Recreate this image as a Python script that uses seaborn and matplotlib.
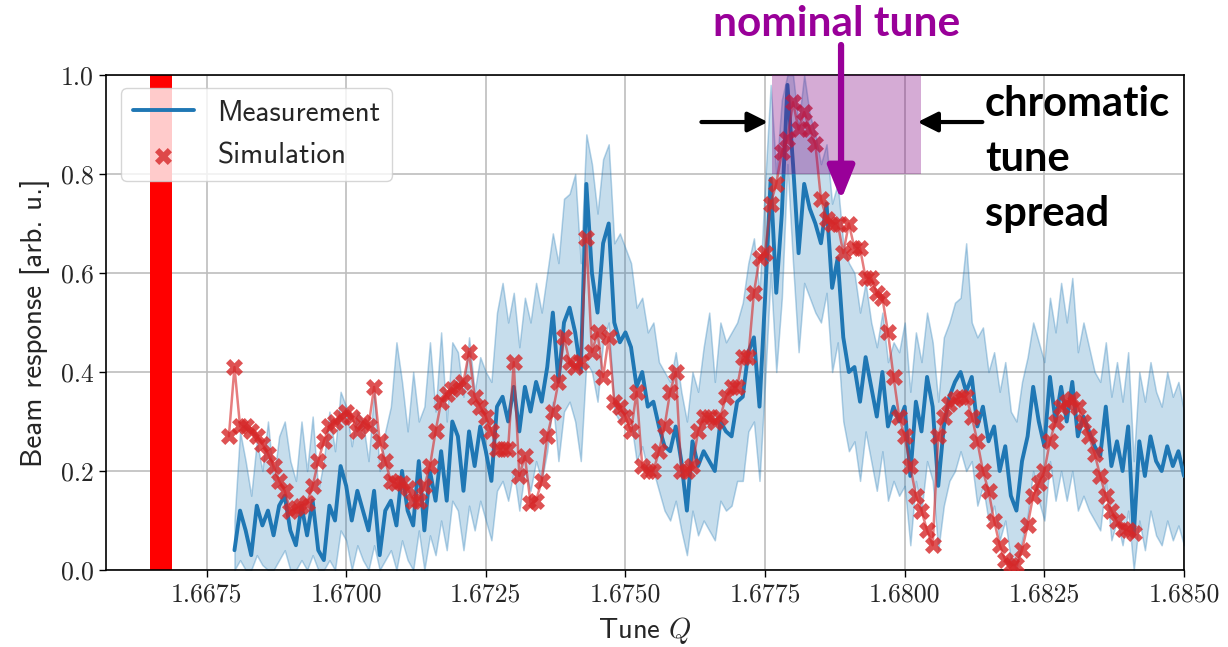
import numpy as np
import pandas as pd
import matplotlib
matplotlib.use("Agg")
import matplotlib.pyplot as plt
import seaborn as sns

# ---------------- data ----------------
meas_tune = np.round(np.arange(1.6680, 1.68505, 0.0001), 4)  # 171 tune steps
meas_mean = [
    0.04, 0.12, 0.08, 0.03, 0.13, 0.09, 0.12, 0.07, 0.13, 0.15,
    0.08, 0.05, 0.13, 0.07, 0.14, 0.04, 0.02, 0.13, 0.10, 0.21,
    0.17, 0.10, 0.16, 0.12, 0.08, 0.16, 0.03, 0.12, 0.14, 0.09,
    0.20, 0.12, 0.09, 0.22, 0.08, 0.20, 0.14, 0.24, 0.14, 0.30,
    0.27, 0.16, 0.28, 0.21, 0.29, 0.24, 0.18, 0.33, 0.35, 0.30,
    0.37, 0.28, 0.37, 0.32, 0.38, 0.34, 0.41, 0.52, 0.38, 0.50,
    0.53, 0.48, 0.40, 0.78, 0.60, 0.52, 0.66, 0.70, 0.50, 0.46,
    0.48, 0.45, 0.37, 0.40, 0.33, 0.34, 0.29, 0.25, 0.24, 0.29,
    0.22, 0.12, 0.26, 0.21, 0.24, 0.22, 0.20, 0.30, 0.28, 0.27,
    0.34, 0.35, 0.44, 0.47, 0.33, 0.55, 0.79, 0.56, 0.72, 0.98,
    0.82, 0.64, 0.78, 0.73, 0.70, 0.66, 0.74, 0.57, 0.63, 0.47,
    0.40, 0.41, 0.34, 0.43, 0.37, 0.31, 0.40, 0.29, 0.33, 0.30,
    0.33, 0.19, 0.34, 0.28, 0.39, 0.33, 0.17, 0.29, 0.35, 0.38,
    0.40, 0.36, 0.39, 0.29, 0.33, 0.26, 0.29, 0.20, 0.25, 0.15,
    0.12, 0.22, 0.27, 0.37, 0.30, 0.25, 0.39, 0.30, 0.37, 0.30,
    0.38, 0.27, 0.31, 0.28, 0.25, 0.23, 0.33, 0.21, 0.26, 0.20,
    0.29, 0.07, 0.26, 0.19, 0.27, 0.22, 0.20, 0.25, 0.21, 0.24, 0.19,
]
meas_upper = [
    0.10, 0.28, 0.22, 0.15, 0.26, 0.20, 0.30, 0.18, 0.27, 0.30,
    0.22, 0.18, 0.30, 0.20, 0.31, 0.16, 0.22, 0.32, 0.24, 0.36,
    0.33, 0.25, 0.32, 0.30, 0.22, 0.36, 0.20, 0.28, 0.33, 0.46,
    0.38, 0.28, 0.40, 0.30, 0.33, 0.46, 0.32, 0.48, 0.30, 0.46,
    0.44, 0.35, 0.47, 0.36, 0.43, 0.40, 0.38, 0.52, 0.58, 0.50,
    0.56, 0.45, 0.55, 0.50, 0.58, 0.52, 0.60, 0.68, 0.62, 0.75,
    0.76, 0.80, 0.62, 0.88, 0.82, 0.72, 0.83, 0.86, 0.66, 0.68,
    0.65, 0.62, 0.53, 0.55, 0.48, 0.50, 0.42, 0.40, 0.38, 0.44,
    0.36, 0.30, 0.40, 0.36, 0.45, 0.52, 0.38, 0.50, 0.46, 0.48,
    0.50, 0.54, 0.62, 0.67, 0.56, 0.78, 0.98, 0.80, 0.95, 1.00,
    1.00, 0.90, 1.00, 0.92, 0.88, 0.82, 0.86, 0.74, 0.78, 0.66,
    0.62, 0.60, 0.52, 0.58, 0.50, 0.45, 0.52, 0.42, 0.46, 0.44,
    0.50, 0.36, 0.48, 0.42, 0.52, 0.46, 0.34, 0.47, 0.50, 0.54,
    0.55, 0.66, 0.50, 0.47, 0.49, 0.40, 0.44, 0.36, 0.42, 0.32,
    0.30, 0.38, 0.43, 0.50, 0.46, 0.42, 0.55, 0.48, 0.58, 0.50,
    0.59, 0.44, 0.50, 0.45, 0.40, 0.38, 0.46, 0.35, 0.42, 0.34,
    0.44, 0.22, 0.40, 0.34, 0.42, 0.36, 0.33, 0.40, 0.35, 0.38, 0.32,
]
meas_lower = [
    0.00, 0.02, 0.00, 0.00, 0.03, 0.01, 0.00, 0.00, 0.02, 0.04,
    0.00, 0.00, 0.02, 0.00, 0.03, 0.00, 0.00, 0.02, 0.00, 0.08,
    0.06, 0.00, 0.05, 0.02, 0.00, 0.05, 0.00, 0.02, 0.04, 0.00,
    0.06, 0.02, 0.00, 0.08, 0.00, 0.07, 0.03, 0.10, 0.04, 0.14,
    0.12, 0.04, 0.13, 0.08, 0.14, 0.10, 0.06, 0.16, 0.18, 0.14,
    0.20, 0.12, 0.20, 0.16, 0.22, 0.18, 0.24, 0.34, 0.22, 0.32,
    0.34, 0.30, 0.22, 0.42, 0.40, 0.34, 0.46, 0.50, 0.32, 0.30,
    0.32, 0.30, 0.22, 0.25, 0.20, 0.20, 0.16, 0.12, 0.10, 0.14,
    0.08, 0.03, 0.12, 0.07, 0.10, 0.08, 0.06, 0.14, 0.12, 0.13,
    0.18, 0.18, 0.28, 0.30, 0.18, 0.38, 0.60, 0.40, 0.55, 0.82,
    0.62, 0.44, 0.58, 0.55, 0.52, 0.50, 0.56, 0.40, 0.46, 0.30,
    0.24, 0.26, 0.18, 0.28, 0.22, 0.16, 0.24, 0.14, 0.18, 0.15,
    0.17, 0.05, 0.18, 0.12, 0.22, 0.18, 0.04, 0.13, 0.18, 0.20,
    0.24, 0.20, 0.22, 0.13, 0.17, 0.10, 0.13, 0.06, 0.10, 0.02,
    0.00, 0.06, 0.11, 0.20, 0.14, 0.10, 0.22, 0.14, 0.20, 0.14,
    0.20, 0.12, 0.15, 0.12, 0.10, 0.08, 0.18, 0.06, 0.10, 0.05,
    0.12, 0.00, 0.10, 0.04, 0.12, 0.07, 0.05, 0.10, 0.06, 0.09, 0.05,
]

sim_tune = np.round(np.arange(1.6679, 1.68415, 0.0001), 4)  # 163 tune steps
sim_resp = [
    0.27, 0.41, 0.29, 0.29, 0.28, 0.27, 0.255, 0.235, 0.21, 0.18,
    0.16, 0.12, 0.125, 0.13, 0.135, 0.17, 0.22, 0.26, 0.29, 0.30,
    0.31, 0.32, 0.31, 0.28, 0.30, 0.29, 0.37, 0.26, 0.22, 0.18,
    0.175, 0.175, 0.165, 0.14, 0.14, 0.17, 0.21, 0.28, 0.34, 0.355,
    0.365, 0.37, 0.38, 0.44, 0.35, 0.33, 0.31, 0.28, 0.245, 0.245,
    0.245, 0.42, 0.19, 0.23, 0.135, 0.14, 0.18, 0.27, 0.32, 0.38,
    0.47, 0.42, 0.41, 0.42, 0.67, 0.44, 0.48, 0.39, 0.47, 0.34,
    0.33, 0.31, 0.28, 0.36, 0.21, 0.20, 0.20, 0.24, 0.29, 0.36,
    0.40, 0.20, 0.20, 0.21, 0.28, 0.31, 0.31, 0.30, 0.31, 0.35,
    0.37, 0.37, 0.43, 0.43, 0.56, 0.63, 0.64, 0.74, 0.78, 0.845,
    0.87, 0.945, 0.89, 0.925, 0.89, 0.86, 0.75, 0.71, 0.70, 0.70,
    0.64, 0.70, 0.65, 0.65, 0.59, 0.59, 0.56, 0.55, 0.48, 0.39,
    0.31, 0.27, 0.21, 0.15, 0.12, 0.08, 0.05, 0.27, 0.31, 0.335,
    0.345, 0.35, 0.35, 0.31, 0.26, 0.20, 0.16, 0.10, 0.05, 0.02,
    0.01, 0.01, 0.04, 0.09, 0.15, 0.175, 0.20, 0.26, 0.30, 0.33,
    0.34, 0.345, 0.33, 0.30, 0.27, 0.235, 0.19, 0.15, 0.12, 0.098,
    0.083, 0.08, 0.074,
]

resonance_band = (1.66648, 1.66688)      # third-integer resonance
spread_band = (1.67763, 1.68029)          # chromatic tune spread
spread_height = (0.8, 1.0)
nominal_tune = 1.67886
x_ticks = [1.6675, 1.6700, 1.6725, 1.6750, 1.6775, 1.6800, 1.6825, 1.6850]
y_ticks = [0.0, 0.2, 0.4, 0.6, 0.8, 1.0]

meas_df = pd.DataFrame({"tune": meas_tune, "mean": meas_mean,
                        "lo": meas_lower, "hi": meas_upper})
sim_df = pd.DataFrame({"tune": sim_tune, "resp": sim_resp})

# ---------------- style ----------------
sns.set_style("whitegrid", {
    "axes.edgecolor": "black",
    "grid.color": "#bdbdbd",
    "xtick.bottom": True,
    "ytick.left": True,
})
plt.rcParams["mathtext.fontset"] = "cm"
plt.rcParams["font.family"] = ["cmss10", "DejaVu Sans"]
plt.rcParams["axes.unicode_minus"] = False

BLUE = "#1f77b4"
RED = "#d62728"
PURPLE = "#990099"

fig = plt.figure(figsize=(12.28, 6.47), dpi=100)
ax = fig.add_axes([106 / 1228, 1 - 570 / 647, 1078 / 1228, 495 / 647])

# resonance bar
ax.axvspan(*resonance_band, color="red", lw=0, zorder=1)

# measurement band + mean
ax.fill_between(meas_df["tune"], meas_df["lo"], meas_df["hi"],
                facecolor=(0.12, 0.47, 0.71, 0.25),
                edgecolor=(0.12, 0.47, 0.71, 0.32), lw=1.1, zorder=2)
sns.lineplot(data=meas_df, x="tune", y="mean", ax=ax, color=BLUE, lw=2.8,
             estimator=None, label="Measurement", zorder=3)

# simulation
sns.lineplot(data=sim_df, x="tune", y="resp", ax=ax, color=RED, lw=1.8,
             alpha=0.6, estimator=None, legend=False, zorder=4)
sns.scatterplot(data=sim_df, x="tune", y="resp", ax=ax, color=RED,
                marker="X", s=150, alpha=0.8, linewidth=0,
                label="Simulation", zorder=5)

# chromatic tune spread box
ax.fill_between(list(spread_band), spread_height[0], spread_height[1],
                color="#800080", alpha=0.33, lw=0, zorder=6)

ax.set_xlim(1.6657, 1.6850)
ax.set_ylim(0, 1.0)
ax.set_xticks(x_ticks)
ax.set_yticks(y_ticks)
ax.set_xticklabels([f"{t:.4f}" for t in x_ticks])
ax.set_yticklabels([f"{t:.1f}" for t in y_ticks])
for lab in ax.get_xticklabels() + ax.get_yticklabels():
    lab.set_fontfamily(["cmr10", "DejaVu Serif"])
    lab.set_fontsize(18.5)
ax.tick_params(axis="both", direction="out", length=5, width=1.0,
               color="black", pad=4)
ax.grid(True, color="#bdbdbd", lw=1.2)
for sp in ax.spines.values():
    sp.set_color("black")
    sp.set_linewidth(1.2)

ax.set_xlabel("Tune $Q$", fontsize=20.5, labelpad=6)
ax.set_ylabel("Beam response [arb. u.]", fontsize=21, labelpad=8)

handles, labels = ax.get_legend_handles_labels()
leg = ax.legend(handles, labels, loc="upper left",
                bbox_to_anchor=(0.014, 0.974), borderaxespad=0,
                fontsize=21, framealpha=0.8, fancybox=True,
                handlelength=2.1, labelspacing=0.55)
leg.set_zorder(10)

# annotations
ann_font = dict(family=["Lato", "DejaVu Sans"], weight="bold")
fig.text(837 / 1228, 1 - 24 / 647, "nominal tune", color=PURPLE,
         fontsize=30.5, ha="center", va="center", **ann_font)
fig.text(985 / 1228, 1 - 85 / 647, "chromatic\ntune\nspread",
         color="black", fontsize=30, ha="left", va="top",
         linespacing=1.55, **ann_font)

ax.annotate("", xy=(nominal_tune, 0.7475), xytext=(nominal_tune, 1.0606),
            arrowprops=dict(arrowstyle="-|>,head_length=0.67,head_width=0.27",
                            color=PURPLE, lw=4.5, mutation_scale=30,
                            shrinkA=0, shrinkB=0),
            annotation_clip=False, zorder=11)
ax.annotate("", xy=(1.67755, 0.905), xytext=(1.67636, 0.905),
            arrowprops=dict(arrowstyle="-|>,head_length=0.6,head_width=0.3",
                            color="black", lw=3, mutation_scale=20,
                            shrinkA=0, shrinkB=0),
            annotation_clip=False, zorder=11)
ax.annotate("", xy=(1.68023, 0.905), xytext=(1.68139, 0.905),
            arrowprops=dict(arrowstyle="-|>,head_length=0.6,head_width=0.3",
                            color="black", lw=3, mutation_scale=20,
                            shrinkA=0, shrinkB=0),
            annotation_clip=False, zorder=11)

fig.savefig("out.png", dpi=100)
